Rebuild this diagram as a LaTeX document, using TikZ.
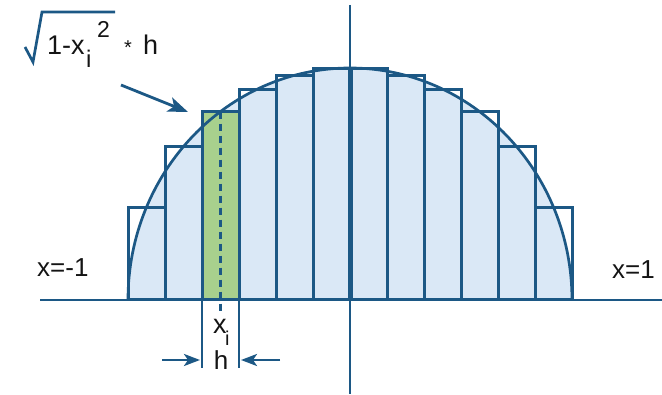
\documentclass[tikz,border=0pt]{standalone}
\usepackage{fontspec}
\setmainfont{Liberation Sans}
\usetikzlibrary{arrows.meta}
\definecolor{lineblue}{RGB}{28,88,133}
\definecolor{fillblue}{RGB}{218,232,246}
\definecolor{fillgreen}{RGB}{168,208,141}
\definecolor{txtcol}{RGB}{20,20,20}
\begin{document}
\begin{tikzpicture}[x=1pt,y=-1pt,
  rectline/.style={draw=lineblue,line width=3pt},
  curveline/.style={draw=lineblue,line width=2.7pt},
  axisline/.style={draw=lineblue,line width=2.8pt},
  guide/.style={draw=lineblue,line width=2.5pt},
  arr/.style={draw=lineblue,line width=2.5pt,-{Stealth[length=16pt,width=12pt,inset=4pt]}},
  bigarr/.style={draw=lineblue,line width=2.8pt,-{Stealth[length=20pt,width=15pt,inset=5pt]}},
  lbl/.style={inner sep=0pt,anchor=base west,text=txtcol},
]
\useasboundingbox (0,0) rectangle (662,395);
% semicircle fill
\fill[fillblue] (128,300) arc[start angle=180,end angle=0,x radius=222pt,y radius=232pt] -- cycle;
% green rectangle (k=2)
\pgfmathsetmacro{\gtop}{300-232*sqrt(1-(7/12)^2)}
\fill[fillgreen] (202,300) rectangle (239,\gtop);
% rectangles
\foreach \k in {0,...,11}{
  \pgfmathsetmacro{\lx}{128+37*\k}
  \pgfmathsetmacro{\rxx}{\lx+37}
  \pgfmathsetmacro{\ty}{300-232*sqrt(1-((2*\k-11)/12)^2)}
  \draw[rectline] (\lx,300) rectangle (\rxx,\ty);
}
% semicircle arc
\draw[curveline] (128,300) arc[start angle=180,end angle=0,x radius=222pt,y radius=232pt];
% axes
\coordinate (xl) at (40,300);
\coordinate (xr) at (662,300);
\coordinate (yt) at (350,5);
\coordinate (yb) at (350,394);
\coordinate (ytop) at (350,68);
\coordinate (ybase) at (350,300);
\draw[axisline] (xl) -- (xr);
\draw[axisline] (yt) -- (yb);
\draw[draw=lineblue,line width=5pt] (ybase) -- (ytop);
% dashed centre line
\coordinate (dtop) at (220.5,\gtop);
\coordinate (dbot) at (220.5,313);
\draw[guide,dash pattern=on 7pt off 5pt] (dtop) -- (dbot);
% extension lines
\coordinate (e1t) at (202,300);
\coordinate (e1b) at (202,368);
\coordinate (e2t) at (239,300);
\coordinate (e2b) at (239,368);
\draw[guide] (e1t) -- (e1b);
\draw[guide] (e2t) -- (e2b);
% h arrows
\coordinate (a1s) at (162,360);
\coordinate (a1e) at (200,360);
\coordinate (a2s) at (280,360);
\coordinate (a2e) at (241,360);
\draw[arr] (a1s) -- (a1e);
\draw[arr] (a2s) -- (a2e);
% labels
\node[lbl,font=\fontsize{26}{30}\selectfont] (xm1) at (37,277) {x=-1};
\node[lbl,font=\fontsize{26}{30}\selectfont] (xp1) at (612,279) {x=1};
\node[lbl,font=\fontsize{27}{30}\selectfont] (xi) at (213,334) {x};
\node[lbl,font=\fontsize{20}{24}\selectfont] (xisub) at (225,346) {i};
\node[inner sep=0pt,anchor=base,text=txtcol,font=\fontsize{26}{30}\selectfont] (hl) at (221,370) {h};
% formula label
\coordinate (r1) at (25,47);
\coordinate (r2) at (33,62);
\coordinate (r3) at (42,12);
\coordinate (r4) at (115,12);
\draw[curveline,line join=miter] (r1) -- (r2) -- (r3) -- (r4);
\node[lbl,font=\fontsize{27}{30}\selectfont] (f1) at (47,55) {1-x};
\node[lbl,font=\fontsize{24}{28}\selectfont] (fi) at (86,68) {i};
\node[lbl,font=\fontsize{23}{26}\selectfont] (f2) at (97,38) {2};
\node[lbl,font=\fontsize{20}{24}\selectfont] (fs) at (124,55) {*};
\node[lbl,font=\fontsize{27}{30}\selectfont] (fh) at (143,55) {h};
% pointer arrow
\coordinate (ps) at (121,85);
\coordinate (pe) at (188,112);
\draw[bigarr] (ps) -- (pe);
\end{tikzpicture}
\end{document}
